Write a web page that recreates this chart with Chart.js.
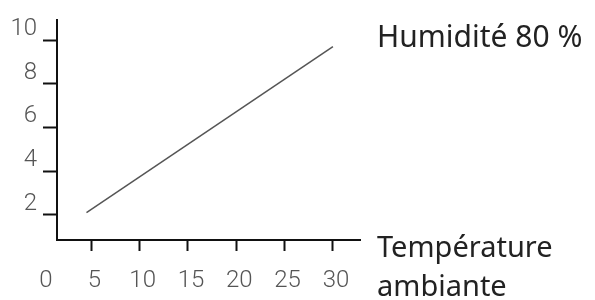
<!DOCTYPE html>
<html>
<head>
<meta charset="utf-8">
<script src="https://cdn.jsdelivr.net/npm/chart.js@4/dist/chart.umd.min.js"></script>
<style>
  html, body { margin: 0; padding: 0; background: #fff; }
  #chart { display: block; }
</style>
</head>
<body>
<canvas id="chart" width="595" height="300"></canvas>
<script>
// valeurs
const temperature = [4.5, 30];
const valeur = [2.1, 9.7];
const xTicks = [0, 5, 10, 15, 20, 25, 30];
const yTicks = [2, 4, 6, 8, 10];
const serieLabel = 'Humidité 80 %';
const axeLabel = ['Température', 'ambiante'];

const tickFont = { family: 'Roboto', size: 24, weight: '300' };

// textes à droite du graphique
const sideText = {
  id: 'sideText',
  afterDraw(chart) {
    const ctx = chart.ctx;
    ctx.save();
    ctx.fillStyle = '#222';
    ctx.textAlign = 'left';
    ctx.textBaseline = 'alphabetic';
    ctx.font = "30px 'Noto Sans', sans-serif";
    ctx.fillText(serieLabel, 377, 47);
    ctx.font = "29px 'Noto Sans', sans-serif";
    ctx.fillText(axeLabel[0], 377, 257);
    ctx.fillText(axeLabel[1], 377, 296);
    ctx.restore();
  }
};

const data = {
  datasets: [{
    label: serieLabel,
    data: temperature.map((t, i) => ({ x: t, y: valeur[i] })),
    borderColor: '#555',
    borderWidth: 1.5,
    showLine: true,
    fill: false,
    pointRadius: 0
  }]
};

const config = {
  type: 'scatter',
  data: data,
  options: {
    responsive: false,
    animation: false,
    layout: { padding: { top: 12, right: 235, left: 0, bottom: 0 } },
    scales: {
      x: {
        type: 'linear',
        min: 1.45,
        max: 32.8,
        afterBuildTicks: (scale) => { scale.ticks = xTicks.map(v => ({ value: v })); },
        afterFit: (scale) => { scale.height = 60; },
        border: { display: true, color: '#111', width: 2 },
        grid: {
          drawOnChartArea: false,
          tickLength: 11,
          tickWidth: 2,
          tickColor: (c) => (c.tick && c.tick.value === 0) ? 'rgba(0,0,0,0)' : '#111'
        },
        ticks: {
          autoSkip: false,
          maxRotation: 0,
          padding: 16,
          labelOffset: 3,
          color: '#555',
          font: tickFont,
          callback: (v) => String(v)
        }
      },
      y: {
        type: 'linear',
        min: 0.85,
        max: 10.9,
        afterBuildTicks: (scale) => { scale.ticks = yTicks.map(v => ({ value: v })); },
        afterFit: (scale) => { scale.width = 57; },
        border: { display: true, color: '#111', width: 2 },
        grid: {
          drawOnChartArea: false,
          tickLength: 14,
          tickWidth: 2,
          tickColor: '#111'
        },
        ticks: {
          autoSkip: false,
          padding: 6,
          labelOffset: -11,
          color: '#555',
          font: tickFont,
          callback: (v) => String(v)
        }
      }
    },
    plugins: {
      legend: { display: false },
      tooltip: { enabled: false }
    }
  },
  plugins: [sideText]
};

new Chart(document.getElementById('chart').getContext('2d'), config);
</script>
</body>
</html>
